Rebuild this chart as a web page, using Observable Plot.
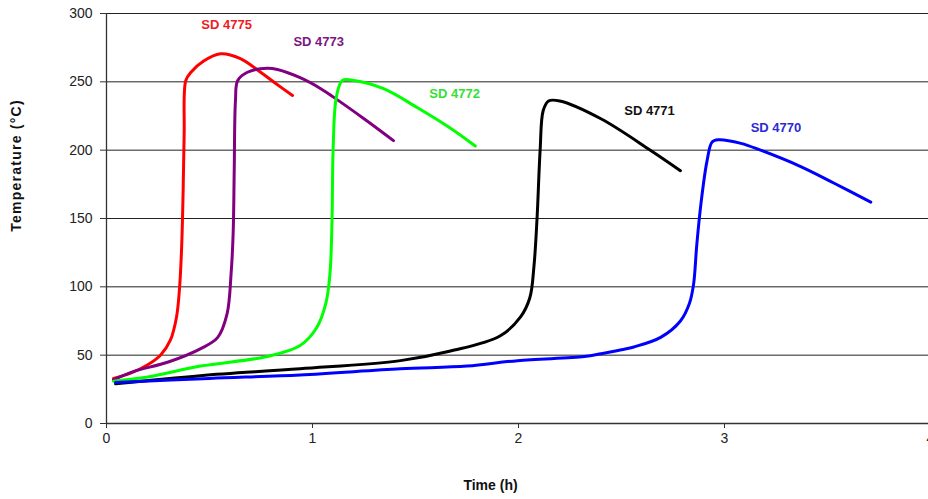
<!DOCTYPE html>
<html>
<head>
<meta charset="utf-8">
<script src="https://cdn.jsdelivr.net/npm/d3@7"></script>
<script src="https://cdn.jsdelivr.net/npm/@observablehq/plot@0.6"></script>
<style>
  html, body { margin: 0; padding: 0; background: #fff; overflow: hidden; }
</style>
</head>
<body>
<div id="chart"></div>
<script>
// ---- data ----
const seriesNames = ["SD 4775", "SD 4773", "SD 4772", "SD 4771", "SD 4770"];
const seriesColors = ["#ff0000", "#800080", "#00ff00", "#000000", "#0000ff"];
const labelColors = ["#ee1c25", "#7b1680", "#33e033", "#111111", "#2b2bd6"];

const time4775 = [0.034, 0.12, 0.2, 0.262, 0.31, 0.34, 0.355, 0.365, 0.372, 0.377, 0.385, 0.41, 0.47, 0.553, 0.65, 0.748, 0.82, 0.903];
const temp4775 = [33, 37, 43, 50, 61, 78, 100, 130, 170, 212, 251, 257, 265, 270.5, 267, 257, 249, 240];

const time4773 = [0.034, 0.13, 0.3, 0.46, 0.54, 0.585, 0.605, 0.615, 0.62, 0.626, 0.637, 0.684, 0.78, 0.83, 0.94, 1.04, 1.10, 1.25, 1.393];
const temp4773 = [32, 38, 45, 55, 63, 80, 110, 140, 185, 236, 251, 257, 260, 259, 253, 245, 239, 223, 207];

const time4772 = [0.034, 0.2, 0.456, 0.78, 0.94, 1.02, 1.065, 1.085, 1.095, 1.10, 1.116, 1.145, 1.2, 1.345, 1.51, 1.67, 1.79];
const temp4772 = [31, 34, 42, 49, 57, 70, 88, 110, 150, 200, 239, 251, 251, 245, 231, 216, 203];

const time4771 = [0.044, 0.456, 0.94, 1.427, 1.67, 1.91, 2.01, 2.055, 2.075, 2.09, 2.105, 2.12, 2.146, 2.2, 2.4, 2.64, 2.786];
const temp4771 = [29, 35, 40, 46, 53, 64, 78, 92, 115, 150, 200, 229, 236, 236, 223, 200, 185];

const time4770 = [0.044, 0.5, 0.94, 1.427, 1.75, 1.995, 2.32, 2.4, 2.5, 2.56, 2.69, 2.786, 2.83, 2.85, 2.865, 2.885, 2.915, 2.94, 2.97, 3.08, 3.175, 3.37, 3.53, 3.71];
const temp4770 = [30, 33, 35.5, 40, 42, 46, 49, 51, 54, 56, 63, 75, 88, 102, 130, 160, 192, 206, 207.6, 205, 200, 188, 176, 162];

const labelTime = [0.583, 1.03, 1.69, 2.636, 3.25];
const labelTemp = [292, 279, 241.5, 229, 216.6];

const xTicks = [0, 1, 2, 3, 4];
const yTicks = [0, 50, 100, 150, 200, 250, 300];
const xTitle = "Time (h)";
const yTitle = "Temperature (°C)";

// ---- build tables ----
const times = [time4775, time4773, time4772, time4771, time4770];
const temps = [temp4775, temp4773, temp4772, temp4771, temp4770];
const rows = seriesNames.flatMap((name, i) =>
  times[i].map((t, j) => ({series: name, t, T: temps[i][j]}))
);
const labels = seriesNames.map((name, i) => ({name, t: labelTime[i], T: labelTemp[i], color: labelColors[i]}));

const chart = Plot.plot({
  width: 928,
  height: 499,
  marginLeft: 106,
  marginRight: 0,
  marginTop: 13,
  marginBottom: 76,
  style: {fontFamily: "'Liberation Sans', Arial, sans-serif", fontSize: "14px", color: "#222", background: "#fff"},
  x: {domain: [0, 4], range: [106, 930]},
  y: {domain: [0, 300]},
  color: {domain: seriesNames, range: seriesColors},
  marks: [
    Plot.ruleY(yTicks.filter(d => d > 0), {stroke: "#222", strokeWidth: 1}),
    Plot.ruleY([0], {stroke: "#333", strokeWidth: 1.3}),
    Plot.ruleX([0], {y1: 0, y2: 300, stroke: "#333", strokeWidth: 1.3}),
    Plot.axisX({ticks: xTicks, tickSize: 5, tickPadding: 5, tickFormat: d => String(d), label: null, stroke: "#333"}),
    Plot.axisY({ticks: yTicks, tickSize: 6, tickPadding: 8, tickFormat: d => String(d), label: null, stroke: "#333"}),
    Plot.line(rows, {x: "t", y: "T", z: "series", stroke: "series", strokeWidth: 3, curve: "catmull-rom"}),
    Plot.text(labels, {x: "t", y: "T", text: "name", fill: "color", fontSize: 13, fontWeight: "bold", textAnchor: "middle"}),
    Plot.text([xTitle], {frameAnchor: "bottom", dx: -27, dy: 66, fontSize: 14, fontWeight: "bold", fill: "#111", textAnchor: "middle"}),
    Plot.text([yTitle], {frameAnchor: "left", dx: -90, dy: -53, rotate: -90, fontSize: 14, fontWeight: "bold", fill: "#111", textAnchor: "middle"})
  ]
});
d3.select(chart).selectAll("text")
  .filter(function() { return this.textContent === yTitle; })
  .style("letter-spacing", "1.25px");
document.getElementById("chart").appendChild(chart);
</script>
</body>
</html>
